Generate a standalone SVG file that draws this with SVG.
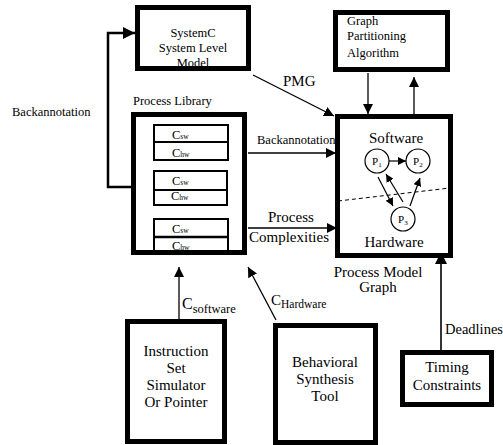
<svg xmlns="http://www.w3.org/2000/svg" width="503" height="445" viewBox="0 0 503 445">
<style>
.box{fill:#fff;stroke:#000;stroke-width:5}
.inner{fill:#fff;stroke:#000;stroke-width:2}
text{font-family:'Liberation Serif','Times New Roman','DejaVu Serif',serif;fill:#000}
.c{stroke:#000;stroke-width:1.3;fill:none}
.circ{fill:#fff;stroke:#000;stroke-width:1.2}
</style>
<defs>
<marker id="a" markerUnits="userSpaceOnUse" markerWidth="10" markerHeight="10" viewBox="0 0 10 10" refX="10" refY="5" orient="auto"><path d="M0,0 L10,5 L0,10 z" fill="#000"/></marker>
<marker id="b" markerUnits="userSpaceOnUse" markerWidth="12" markerHeight="12" viewBox="0 0 10 10" refX="10" refY="5" orient="auto"><path d="M0,0 L10,5 L0,10 z" fill="#000"/></marker>
<marker id="s" markerUnits="userSpaceOnUse" markerWidth="8" markerHeight="8" viewBox="0 0 10 10" refX="10" refY="5" orient="auto"><path d="M0,0 L10,5 L0,10 z" fill="#000"/></marker>
</defs>

<g id="connectors">
<path class="c" d="M131,187 H108 V33 H135" style="stroke-width:2.5" marker-end="url(#b)"/>
<path class="c" d="M253,75 L334,116" marker-end="url(#a)"/>
<path class="c" d="M368,73 V114" marker-end="url(#a)"/>
<path class="c" d="M414,114 V77" marker-end="url(#a)"/>
<path class="c" d="M248,153 H336" marker-end="url(#a)"/>
<path class="c" d="M248,228 H337" marker-end="url(#a)"/>
<path class="c" d="M179,319 V267" marker-end="url(#a)"/>
<path class="c" d="M276,320 L248,267" marker-end="url(#a)"/>
<path class="c" d="M441,350 V252" style="stroke-width:1.6" marker-end="url(#b)"/>
<text x="12" y="116" font-size="12.5">Backannotation</text>
<text x="283" y="86" font-size="15">PMG</text>
<text x="257" y="144" font-size="12.5">Backannotation</text>
<text x="268" y="222" font-size="15">Process</text>
<text x="249" y="242" font-size="15">Complexities</text>
<text x="182" y="309" font-size="16">C<tspan font-size="12.5" dy="4">software</tspan></text>
<text x="271" y="305" font-size="15">C<tspan font-size="11.5" dy="3">Hardware</tspan></text>
<text x="445" y="334" font-size="14.5">Deadlines</text>
</g>

<g id="systemc">
<rect class="box" x="137.5" y="7.5" width="111" height="61"/>
<text font-size="12.5" text-anchor="middle"><tspan x="193" y="37">SystemC</tspan><tspan x="193" y="52">System Level</tspan><tspan x="193" y="67">Model</tspan></text>
</g>

<g id="graph-partitioning">
<rect class="box" x="335.5" y="12.5" width="112" height="57"/>
<text font-size="12.5"><tspan x="347" y="25">Graph</tspan><tspan x="347" y="40">Partitioning</tspan><tspan x="347" y="57">Algorithm</tspan></text>
</g>

<g id="process-library">
<text x="133" y="105" font-size="12.5">Process Library</text>
<rect class="box" x="133.5" y="114.5" width="111" height="138"/>
<rect class="inner" x="154" y="125" width="74" height="35"/>
<line class="inner" x1="154" y1="142" x2="228" y2="142"/>
<rect class="inner" x="154" y="171" width="73" height="34"/>
<line class="inner" x1="154" y1="190" x2="227" y2="190"/>
<rect class="inner" x="154" y="219" width="74" height="32"/>
<line class="inner" x1="154" y1="237" x2="228" y2="237" style="stroke-width:2.5"/>
<g font-size="12.5">
<text x="172" y="139">C<tspan font-size="7.5">sw</tspan></text>
<text x="172" y="157">C<tspan font-size="7.5">hw</tspan></text>
<text x="172" y="185">C<tspan font-size="7.5">sw</tspan></text>
<text x="171" y="200">C<tspan font-size="7.5">hw</tspan></text>
<text x="172" y="233">C<tspan font-size="7.5">sw</tspan></text>
<text x="172" y="250">C<tspan font-size="7.5">hw</tspan></text>
</g>
</g>

<g id="process-model-graph">
<rect class="box" x="337.5" y="116.5" width="113" height="139"/>
<text x="396" y="143" font-size="15" text-anchor="middle">Software</text>
<text x="394" y="247" font-size="15" text-anchor="middle">Hardware</text>
<line x1="338" y1="201" x2="450" y2="188" stroke="#000" stroke-width="1" stroke-dasharray="4,3"/>
<path class="c" d="M389,161 H406" style="stroke-width:1.2" marker-end="url(#s)"/>
<path class="c" d="M378,177 L393,206" style="stroke-width:1.2" marker-end="url(#s)"/>
<path class="c" d="M403,202 L386,174" style="stroke-width:1.2" marker-end="url(#s)"/>
<path class="c" d="M410,206 L420,178" style="stroke-width:1.2" marker-end="url(#s)"/>
<circle class="circ" cx="377" cy="161" r="12"/>
<circle class="circ" cx="418" cy="161" r="12"/>
<circle class="circ" cx="403" cy="219" r="12"/>
<g font-size="11">
<text x="372" y="165">P<tspan font-size="7" dy="2">1</tspan></text>
<text x="413" y="165">P<tspan font-size="7" dy="2">2</tspan></text>
<text x="398" y="223">P<tspan font-size="7" dy="2">3</tspan></text>
</g>
<text font-size="15" text-anchor="middle"><tspan x="378" y="277">Process Model</tspan><tspan x="378" y="292">Graph</tspan></text>
</g>

<g id="instruction-set">
<rect class="box" x="127.5" y="321.5" width="97" height="120"/>
<text font-size="15" text-anchor="middle"><tspan x="176" y="356">Instruction</tspan><tspan x="176" y="373">Set</tspan><tspan x="176" y="390">Simulator</tspan><tspan x="176" y="407">Or Pointer</tspan></text>
</g>

<g id="behavioral-synthesis">
<rect class="box" x="275.5" y="325.5" width="100" height="117"/>
<text font-size="15" text-anchor="middle"><tspan x="325" y="367">Behavioral</tspan><tspan x="325" y="384">Synthesis</tspan><tspan x="325" y="401">Tool</tspan></text>
</g>

<g id="timing-constraints">
<rect class="box" x="402.5" y="352.5" width="89" height="52"/>
<text font-size="15" text-anchor="middle"><tspan x="447" y="372">Timing</tspan><tspan x="447" y="390">Constraints</tspan></text>
</g>
</svg>
